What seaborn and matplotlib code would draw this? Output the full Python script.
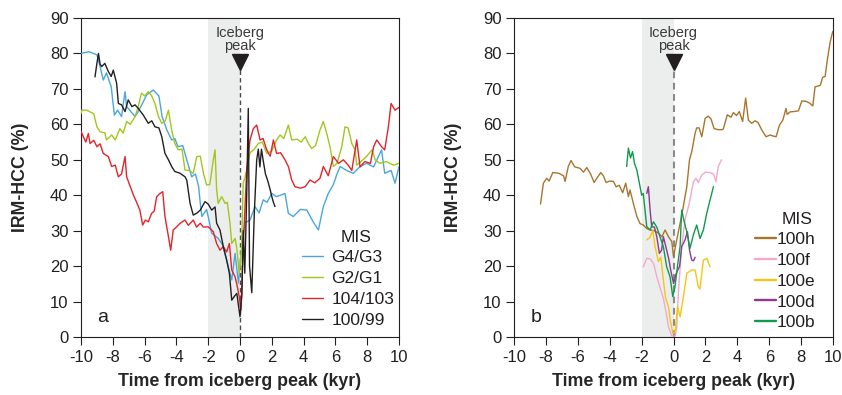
import numpy as np
import pandas as pd
import matplotlib
matplotlib.use("Agg")
import matplotlib.pyplot as plt
import seaborn as sns

# ---------------- panel a: glacial terminations ----------------
g4g3_x = [-10, -9.5, -9.0, -8.8, -8.6, -8.4, -8.1, -7.9, -7.7, -7.45, -7.23, -7.13, -6.6, -6.35,
          -5.87, -5.45, -5.1, -4.9, -4.6, -4.3, -4.1, -3.9, -3.6, -3.35, -3.04, -2.8, -2.6, -2.5,
          -2.4, -2.1, -1.78, -1.37, -1.1, -0.84, -0.52, -0.31, -0.1, 0.1, 0.31, 0.63, 0.94, 1.2,
          1.46, 1.7, 2.0, 2.3, 2.83, 3.04, 3.35, 3.8, 4.2, 4.6, 4.93, 5.24, 5.55, 5.87, 6.1, 6.3,
          6.7, 7.13, 7.55, 7.97, 8.4, 8.9, 9.1, 9.5, 9.75, 10]
g4g3_y = [80, 80.5, 79.6, 76.3, 72.5, 74.5, 70.6, 62.6, 64, 62.2, 69.2, 65, 62.2, 64,
          68.3, 69.7, 68, 62.2, 58.4, 55.6, 56, 53.7, 54, 50, 45.2, 46, 42.4, 37.8,
          34, 36, 29.3, 27.8, 26, 21.7, 16.1, 23.6, 15.2, 25, 32.2, 33, 36.8, 35,
          38.7, 38, 40.5, 39.6, 40.5, 34.9, 34, 36, 35.8, 32.5, 30.2, 36.8, 40.5, 43, 46, 48.1,
          47, 46.2, 48.1, 49, 48, 52.8, 46.2, 47, 43.4, 48.1]

g2g1_x = [-10, -9.95, -9.64, -9.2, -9.0, -8.8, -8.5, -8.4, -8.07, -7.85, -7.55, -7.35, -7.13,
          -6.9, -6.6, -6.4, -6.2, -6.0, -5.77, -5.55, -5.35, -5.13, -4.92, -4.7, -4.5, -4.3,
          -4.1, -3.88, -3.65, -3.46, -3.2, -2.94, -2.72, -2.5, -2.3, -2.1, -1.9, -1.68, -1.57,
          -1.47, -1.37, -1.15, -0.94, -0.8, -0.63, -0.52, -0.31, -0.2, -0.05, 0.1, 0.2, 0.31,
          0.42, 0.63, 0.9, 1.15, 1.4, 1.68, 2.0, 2.3, 2.52, 2.75, 3.04, 3.25, 3.6, 3.85, 4.1,
          4.3, 4.5, 4.75, 5.03, 5.24, 5.45, 5.66, 5.87, 6.1, 6.4, 6.6, 6.8, 7.03, 7.24, 7.34,
          7.6, 7.97, 8.3, 8.5, 8.8, 9.2, 9.65, 10]
g2g1_y = [63, 64, 64, 63, 59.3, 57.9, 57.6, 55.6, 57, 55.6, 58.8, 57.5, 60.8,
          60, 62.2, 65, 68.8, 68, 69.2, 68, 65.9, 62.2, 60.3, 61, 64, 58.4,
          54.6, 52.8, 53, 47.1, 47, 46.2, 50.9, 51, 46.2, 42.9, 43, 50, 52.8,
          41.5, 37.7, 39.6, 37.7, 38, 32.1, 26.4, 27.8, 25, 18, 25, 43.4, 45,
          47.1, 52, 53, 54.6, 55, 51.8, 52.5, 55.6, 57, 56, 59.8, 55.6, 55.8, 55, 56.5,
          54.6, 53.2, 54, 58.4, 60.8, 57.5, 53.7, 48.1, 49, 53.7, 59.3, 59, 54.6, 52.8, 48.5,
          49.5, 51, 52.8, 50, 49, 49.5, 48.5, 49]

m104_x = [-10, -9.85, -9.7, -9.54, -9.43, -9.2, -9.0, -8.8, -8.6, -8.28, -8.07, -7.85, -7.65,
          -7.45, -7.23, -7.13, -6.9, -6.7, -6.5, -6.3, -6.12, -5.95, -5.77, -5.56, -5.4, -5.24,
          -5.03, -4.86, -4.72, -4.5, -4.36, -4.2, -4.0, -3.77, -3.46, -3.25, -2.94, -2.73, -2.5,
          -2.3, -2.0, -1.68, -1.47, -1.26, -1.05, -0.84, -0.67, -0.52, -0.31, -0.17, -0.05,
          0.06, 0.2, 0.42, 0.63, 0.84, 1.05, 1.26, 1.45, 1.68, 1.9, 2.1, 2.3, 2.55, 2.83, 3.05,
          3.25, 3.46, 3.8, 4.1, 4.4, 4.7, 5.03, 5.24, 5.55, 5.87, 6.2, 6.5, 6.8, 7.03, 7.34,
          7.55, 7.85, 8.2, 8.4, 8.6, 8.9, 9.1, 9.33, 9.5, 9.75, 10]
m104_y = [58, 56.5, 55, 57.4, 54.6, 55.5, 53.7, 54.5, 51.8, 50.9, 48.1, 48.5, 45.2,
          46, 50.9, 45.2, 42.4, 40, 38, 35.8, 31.6, 33, 32.5, 34.9, 35.5, 39.6,
          40.5, 41, 34, 28.3, 24.5, 30.2, 31, 32.1, 33, 31.5, 33, 31, 32.1,
          31, 31.1, 29.7, 26.4, 24.5, 25.5, 24, 26.4, 18.9, 17, 14.2, 11.4,
          7.6, 25.5, 47, 55.6, 58.8, 59.8, 55.6, 56, 52.8, 51, 55.6, 51.8, 52, 50, 48,
          44.3, 42.4, 42, 42.4, 44.3, 43.5, 44.8, 48.1, 45.5, 50.9, 49, 50, 48.5, 47, 55.6,
          48, 49.5, 49, 53.7, 55.6, 53.7, 52.8, 59.3, 65.9, 64, 64.8]

m100_x = [-9.12, -9.0, -8.9, -8.8, -8.7, -8.5, -8.28, -8.1, -7.97, -7.76, -7.65, -7.45, -7.23,
          -7.03, -6.8, -6.6, -6.4, -6.08, -5.77, -5.55, -5.35, -5.1, -4.92, -4.72, -4.5, -4.3,
          -4.1, -3.77, -3.46, -3.35, -3.14, -2.94, -2.7, -2.5, -2.2, -2.0, -1.78, -1.57, -1.47,
          -1.26, -1.05, -0.84, -0.67, -0.52, -0.35, -0.2, 0.0, 0.12, 0.2, 0.3, 0.42, 0.52, 0.6,
          0.74, 0.9, 1.05, 1.15, 1.25, 1.35, 1.45, 1.6, 1.75, 1.9, 2.0, 2.1, 2.2]
m100_y = [73.4, 77.2, 80, 77, 76.3, 77.2, 74.9, 73.5, 75.3, 71.6, 65.9, 65.5, 63.6,
          66.9, 65, 65.5, 64.5, 62.6, 60.3, 61, 59.3, 59, 56.5, 51.8, 50, 48.1,
          46.7, 46.2, 45.2, 44.3, 37.7, 34.4, 35, 35.8, 38.2, 37.5, 35.8, 36.7, 32.1,
          30.2, 25.5, 21.7, 18, 10.4, 11.5, 12.3, 5.7, 12, 30, 18, 40, 64.5, 20,
          12.5, 35, 50, 53, 48, 53, 50, 46, 44, 41.5, 39.6, 38, 36.8]

# ---------------- panel b: MIS 100 sub-events ----------------
h100_x = [-8.34, -8.16, -7.95, -7.8, -7.57, -7.2, -6.9, -6.8, -6.6, -6.43, -6.2, -5.86, -5.65,
          -5.44, -5.2, -4.98, -4.78, -4.56, -4.4, -4.23, -4.0, -3.77, -3.6, -3.4, -3.19, -3.0,
          -2.83, -2.73, -2.52, -2.3, -2.1, -1.9, -1.68, -1.47, -1.2, -0.95, -0.73, -0.53, -0.32,
          -0.11, 0.0, 0.2, 0.41, 0.61, 0.83, 1.0, 1.15, 1.35, 1.45, 1.6, 1.77, 1.98, 2.18, 2.35,
          2.54, 2.8, 3.05, 3.12, 3.37, 3.6, 3.75, 3.95, 4.12, 4.33, 4.52, 4.69, 4.9, 5.11, 5.3,
          5.53, 5.8, 6.05, 6.25, 6.43, 6.64, 6.85, 7.05, 7.12, 7.3, 7.52, 7.83, 8.04, 8.3, 8.53,
          8.73, 8.87, 9.05, 9.2, 9.35, 9.5, 9.64, 9.82, 9.98]
h100_y = [37.5, 43.4, 44.8, 44, 46.4, 46.2, 45.5, 43.9, 48.1, 49.8, 48, 47.6, 46.5,
          47.8, 46, 43.6, 45, 46.4, 45.5, 43.6, 44, 43.9, 42.4, 42.8, 40.7, 43.4,
          39.6, 41.5, 37.7, 34, 32, 31.6, 30.6, 30.2, 30, 29.3, 28.3, 30.2, 28.3,
          26.9, 22.7, 27.4, 32.1, 36.8, 42.4, 50, 52.5, 57.5, 59, 59, 56.5, 61.7, 62.3, 61.5,
          58.8, 58.5, 58.5, 58.7, 62.7, 62, 63.3, 62.5, 63.6, 60.8, 67.4, 61.2, 60.3, 61, 60.5,
          58.4, 56.5, 57, 56.7, 56.5, 59.8, 61.2, 64.5, 62.8, 63.5, 63.6, 63.8, 66.6, 66.5, 66,
          65.2, 70.6, 70.8, 71, 73.3, 73.5, 78.2, 83.3, 86.2]

f100_x = [-1.9, -1.68, -1.45, -1.25, -1.05, -0.85, -0.64, -0.46, -0.32, -0.11, 0.1, 0.2, 0.31,
          0.51, 0.72, 0.93, 1.03, 1.24, 1.4, 1.55, 1.77, 2.0, 2.29, 2.5, 2.66, 2.8, 3.0]
f100_y = [19.8, 22.2, 22, 20.7, 17, 14, 10.9, 6.7, 2.9, 0.3, 0.2, 2.9, 13.3,
          25.5, 33, 36.8, 38.7, 43.8, 44.8, 43.6, 45.7, 46.5, 46.4, 46, 43.8, 48.1, 50]

e100_x = [-1.68, -1.5, -1.3, -1.16, -0.95, -0.8, -0.64, -0.5, -0.32, -0.21, -0.04, 0.1, 0.25,
          0.41, 0.62, 0.83, 1.14, 1.35, 1.55, 1.65, 1.87, 2.08, 2.29]
e100_y = [27.4, 28, 30, 25.5, 21.3, 22.5, 16.1, 11, 8.6, 4.8, 1, 1.5, 8.6,
          5.7, 11.4, 18, 18.9, 18.9, 14.2, 13.5, 21.7, 22.2, 19.8]

d100_x = [-1.68, -1.58, -1.47, -1.37, -1.2, -1.05, -0.89, -0.75, -0.64, -0.43, -0.3, -0.18,
          0.0, 0.17, 0.38, 0.51, 0.72, 0.87, 1.0, 1.14, 1.25, 1.35]
d100_y = [40.5, 42.4, 35.8, 31.1, 31, 28.3, 23.6, 24.5, 28.3, 24.5, 22, 18.9,
          15.1, 18, 20, 25.5, 27.4, 29.7, 24.5, 21.7, 21.5, 22.5]

b100_x = [-2.94, -2.83, -2.7, -2.57, -2.45, -2.3, -2.1, -2.0, -1.9, -1.79, -1.68, -1.47, -1.26,
          -1.05, -0.85, -0.64, -0.43, -0.22, -0.05, 0.09, 0.24, 0.41, 0.51, 0.67, 0.83, 1.03,
          1.24, 1.45, 1.66, 1.87, 2.08, 2.29, 2.5]
b100_y = [48.1, 53.3, 50.5, 52.3, 49, 47.1, 42.4, 40, 40.5, 35.8, 31.1, 30.2, 32.5,
          31, 28.3, 25.5, 19.8, 17, 11.4, 14.2, 19.8, 25.5, 35.8, 32.5, 29.7, 25,
          28.8, 31.6, 27.8, 30.2, 34.9, 38.7, 42.4]

labels_a = ["G4/G3", "G2/G1", "104/103", "100/99"]
colors_a = ["#4aa6dc", "#a2c61e", "#e2242a", "#231f20"]
labels_b = ["100h", "100f", "100e", "100d", "100b"]
colors_b = ["#a8752e", "#f3a9ca", "#f5c518", "#8c3a90", "#0f9a4e"]

x_ticks = list(range(-10, 11, 2))
y_ticks = list(range(0, 91, 10))


def long_frame(xs, ys, labels):
    parts = [pd.DataFrame({"t": x, "v": y, "MIS": lab}) for x, y, lab in zip(xs, ys, labels)]
    return pd.concat(parts, ignore_index=True)


df_a = long_frame([g4g3_x, g2g1_x, m104_x, m100_x], [g4g3_y, g2g1_y, m104_y, m100_y], labels_a)
df_b = long_frame([h100_x, f100_x, e100_x, d100_x, b100_x],
                  [h100_y, f100_y, e100_y, d100_y, b100_y], labels_b)

sns.set_theme(style="ticks")
plt.rcParams["font.family"] = ["Liberation Sans", "DejaVu Sans"]
plt.rcParams.update({
    "axes.unicode_minus": False,
    "axes.edgecolor": "#231f20",
    "axes.linewidth": 0.8,
    "xtick.color": "#231f20",
    "ytick.color": "#231f20",
    "xtick.major.size": 5.5,
    "ytick.major.size": 5.5,
    "xtick.major.width": 0.8,
    "ytick.major.width": 0.8,
    "xtick.major.pad": 3.5,
    "ytick.major.pad": 3.5,
    "xtick.labelsize": 12,
    "ytick.labelsize": 12,
    "text.color": "#231f20",
})

fig = plt.figure(figsize=(8.42, 3.95), dpi=100)
ax_a = fig.add_axes([0.0962, 0.1468, 0.3777, 0.8076])
ax_b = fig.add_axes([0.6105, 0.1468, 0.3789, 0.8076])


def style_axis(ax, letter, dash_color, dash_lw):
    ax.axvspan(-2, 0, color="#eceeed", zorder=0, lw=0)
    ax.plot([0, 0], [0, 75.5], ls=(0, (3.2, 2.2)), color=dash_color, lw=dash_lw, zorder=1)
    ax.plot([0], [77.7], marker="v", markersize=11, color="#231f20", zorder=5, clip_on=False)
    ax.text(0, 84.0, "Iceberg\npeak", ha="center", va="center", fontsize=10.5,
            color="#3a3a3a", linespacing=0.95)
    ax.set_xlim(-10, 10)
    ax.set_ylim(0, 90)
    ax.set_xticks(x_ticks)
    ax.set_yticks(y_ticks)
    ax.text(0.052, 0.062, letter, transform=ax.transAxes, fontsize=14, ha="left", va="center")
    for s in ax.spines.values():
        s.set_visible(True)


style_axis(ax_a, "a", "#4d4d4d", 1.0)
style_axis(ax_b, "b", "#8a8a8a", 1.5)

sns.lineplot(data=df_a, x="t", y="v", hue="MIS", hue_order=labels_a,
             palette=dict(zip(labels_a, colors_a)), sort=False, estimator=None,
             lw=1.0, ax=ax_a, zorder=3)
sns.lineplot(data=df_b, x="t", y="v", hue="MIS", hue_order=labels_b,
             palette=dict(zip(labels_b, colors_b)), sort=False, estimator=None,
             lw=1.0, ax=ax_b, zorder=3)

for ax in (ax_a, ax_b):
    ax.set_xlabel("Time from iceberg peak (kyr)", fontsize=12.8, fontweight="bold", labelpad=6)
    ax.set_ylabel("IRM-HCC (%)", fontsize=12.8, fontweight="bold", labelpad=15)

leg_a = ax_a.legend(frameon=False, loc="upper left",
                    bbox_to_anchor=(0.695, 0.272), fontsize=12.5,
                    handlelength=1.2, handletextpad=0.5, labelspacing=0.33,
                    borderaxespad=0, borderpad=0)
for h in leg_a.get_lines():
    h.set_linewidth(1.0)
ax_a.text(0.865, 0.313, "MIS", transform=ax_a.transAxes, fontsize=12.5,
          ha="center", va="center")

leg_b = ax_b.legend(frameon=False, loc="upper left",
                    bbox_to_anchor=(0.755, 0.33), fontsize=12.5,
                    handlelength=1.2, handletextpad=0.05, labelspacing=0.33,
                    borderaxespad=0, borderpad=0)
for h in leg_b.get_lines():
    h.set_linewidth(1.7)
ax_b.text(0.887, 0.368, "MIS", transform=ax_b.transAxes, fontsize=12.5,
          ha="center", va="center")

fig.savefig("out.png", dpi=100)
